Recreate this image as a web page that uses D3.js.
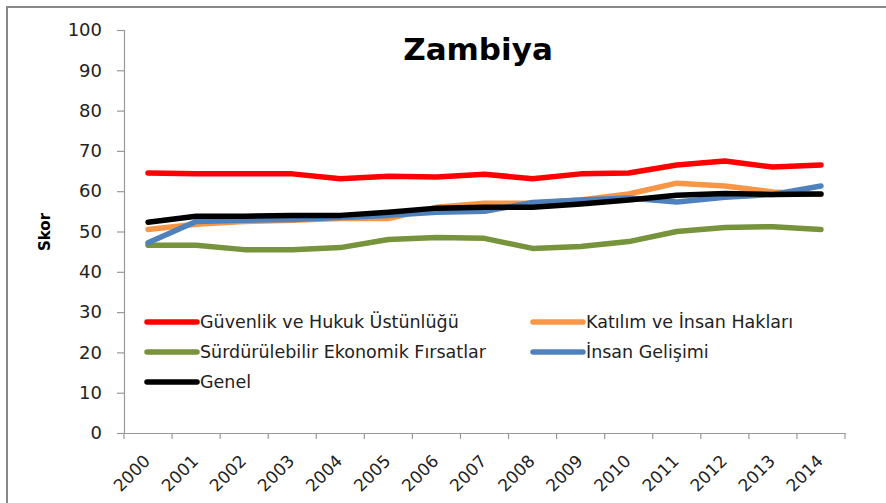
<!DOCTYPE html>
<html>
<head>
<meta charset="utf-8">
<script src="https://cdn.jsdelivr.net/npm/d3@7"></script>
<style>
  body { margin: 0; background: #fff; }
  svg { display: block; }
</style>
</head>
<body>
<script>
var years = ["2000","2001","2002","2003","2004","2005","2006","2007","2008","2009","2010","2011","2012","2013","2014"];
var yTicks = [0,10,20,30,40,50,60,70,80,90,100];

var guvenlik = [64.5,64.3,64.3,64.3,63.1,63.7,63.5,64.2,63.1,64.3,64.5,66.5,67.5,66.0,66.5];
var katilim  = [50.5,51.8,52.5,52.8,53.2,53.2,56.0,57.0,57.0,57.8,59.3,62.0,61.3,59.8,59.2];
var surdur   = [46.6,46.6,45.5,45.5,46.0,48.0,48.5,48.3,45.8,46.3,47.5,50.0,51.0,51.2,50.5];
var insan    = [47.2,52.5,52.8,53.0,53.5,54.0,54.8,55.0,57.2,57.8,58.3,57.3,58.5,59.2,61.3];
var genel    = [52.3,53.8,53.8,54.0,54.0,54.8,55.8,56.0,56.0,56.8,57.8,59.0,59.4,59.2,59.3];

var seriesNames = ["Güvenlik ve Hukuk Üstünlüğü","Katılım ve İnsan Hakları","Sürdürülebilir Ekonomik Fırsatlar","İnsan Gelişimi","Genel"];
var seriesValues = [guvenlik, katilim, surdur, insan, genel];
var seriesColors = ["#ff0000","#f79646","#77933c","#4f81bd","#000000"];

var width = 886, height = 503,
    plotLeft = 124, plotRight = 845, plotTop = 30, plotBottom = 433;

var svg = d3.select("body").append("svg")
  .attr("width", width)
  .attr("height", height);

svg.append("rect")
  .attr("x", 7).attr("y", 7)
  .attr("width", 900).attr("height", 520)
  .attr("fill", "#fff")
  .attr("stroke", "#888").attr("stroke-width", 2);

var x = d3.scaleBand().domain(years).range([plotLeft, plotRight]);
var y = d3.scaleLinear().domain([0, 100]).range([plotBottom, plotTop]);

// y axis
var yAxis = svg.append("g")
  .attr("transform", "translate(" + plotLeft + ",0)")
  .call(d3.axisLeft(y).tickValues(yTicks).tickSize(7).tickPadding(15));
yAxis.select(".domain").attr("stroke", "#999").attr("stroke-width", 1.2);
yAxis.selectAll(".tick line").attr("stroke", "#999").attr("stroke-width", 1.2);
yAxis.selectAll(".tick text")
  .attr("font-family", "DejaVu Sans, sans-serif")
  .attr("font-size", 18)
  .attr("fill", "#222");

// x axis, ticks at band boundaries
var xAxis = svg.append("g")
  .attr("transform", "translate(0," + plotBottom + ")")
  .call(d3.axisBottom(x).tickSize(0).tickPadding(0));
xAxis.select(".domain").attr("stroke", "#999").attr("stroke-width", 1.2);
xAxis.selectAll(".tick text")
  .attr("font-family", "DejaVu Sans, sans-serif")
  .attr("font-size", 17)
  .attr("fill", "#222")
  .attr("text-anchor", "end")
  .attr("y", 0)
  .attr("dy", "0.35em")
  .attr("transform", "translate(-1,25) rotate(-45)");
var bounds = years.map(function (d) { return x(d); }).concat([plotRight]);
svg.append("g").selectAll("line")
  .data(bounds)
  .enter().append("line")
  .attr("x1", function (d) { return d; }).attr("x2", function (d) { return d; })
  .attr("y1", plotBottom).attr("y2", plotBottom + 6)
  .attr("stroke", "#999").attr("stroke-width", 1.2);

// series lines
var line = d3.line()
  .x(function (d, i) { return x(years[i]) + x.bandwidth() / 2; })
  .y(function (d) { return y(d); });

svg.append("g").selectAll("path")
  .data(seriesValues)
  .enter().append("path")
  .attr("d", line)
  .attr("fill", "none")
  .attr("stroke", function (d, i) { return seriesColors[i]; })
  .attr("stroke-width", 5.5)
  .attr("stroke-linejoin", "round")
  .attr("stroke-linecap", "round");

// title
svg.append("text")
  .attr("x", 478).attr("y", 60)
  .attr("text-anchor", "middle")
  .attr("font-family", "DejaVu Sans, sans-serif")
  .attr("font-weight", "bold")
  .attr("font-size", 31)
  .text("Zambiya");

// y label
svg.append("text")
  .attr("transform", "translate(50,232) rotate(-90)")
  .attr("text-anchor", "middle")
  .attr("font-family", "DejaVu Sans, sans-serif")
  .attr("font-weight", "bold")
  .attr("font-size", 15)
  .text("Skor");

// legend
var legendPos = [[147,322],[533,322],[147,352],[533,352],[147,382]];
var legend = svg.append("g").selectAll("g")
  .data(seriesNames)
  .enter().append("g")
  .attr("transform", function (d, i) { return "translate(" + legendPos[i][0] + "," + legendPos[i][1] + ")"; });
legend.append("line")
  .attr("x1", 0).attr("x2", 50)
  .attr("stroke", function (d, i) { return seriesColors[i]; })
  .attr("stroke-width", 5.5)
  .attr("stroke-linecap", "round");
legend.append("text")
  .attr("x", 53).attr("y", 6)
  .attr("font-family", "DejaVu Sans, sans-serif")
  .attr("font-size", 17.5)
  .attr("fill", "#222")
  .text(function (d) { return d; });
</script>
</body>
</html>
